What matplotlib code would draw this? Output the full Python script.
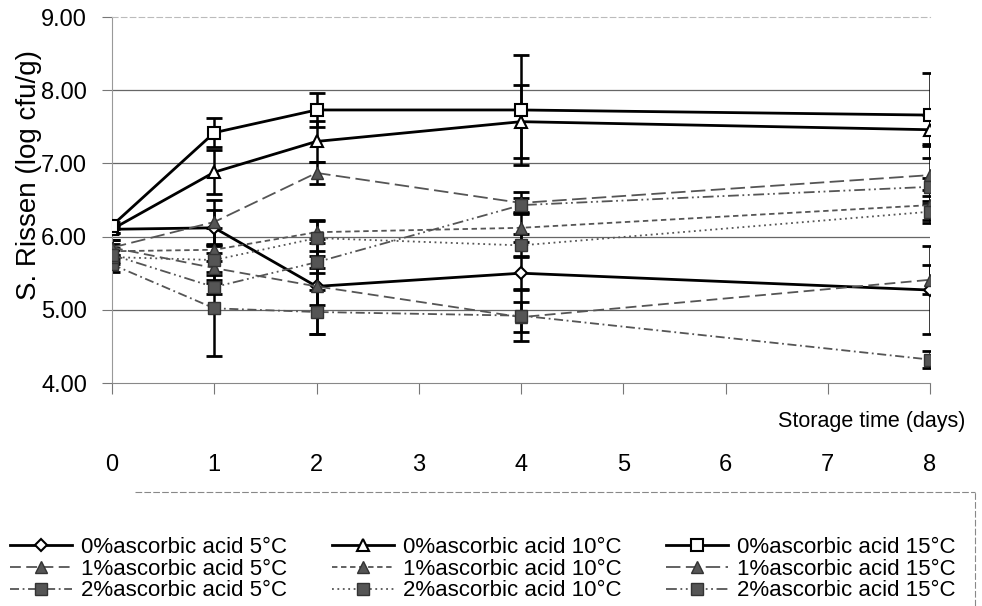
import matplotlib.pyplot as plt
from matplotlib.lines import Line2D

plt.rcParams['font.family'] = ['Liberation Sans', 'DejaVu Sans']

# data (log cfu/g), error bars are SD
days = [0, 1, 2, 4, 8]

m0_5 = [6.10, 6.12, 5.32, 5.50, 5.27]
e0_5 = [0.05, 0.25, 0.65, 0.22, 0.60]
m0_10 = [6.10, 6.88, 7.30, 7.57, 7.46]
e0_10 = [0.05, 0.30, 0.28, 0.50, 0.20]
m0_15 = [6.15, 7.42, 7.73, 7.73, 7.66]
e0_15 = [0.05, 0.20, 0.23, 0.75, 0.58]

m1_5 = [5.85, 5.57, 5.32, 4.90, 5.41]
e1_5 = [0.10, 0.20, 0.25, 0.20, 0.20]
m1_10 = [5.80, 5.82, 6.06, 6.12, 6.43]
e1_10 = [0.10, 0.30, 0.15, 0.20, 0.20]
m1_15 = [5.85, 6.20, 6.87, 6.46, 6.84]
e1_15 = [0.10, 0.30, 0.15, 0.15, 0.40]

m2_5 = [5.62, 5.02, 4.97, 4.92, 4.32]
e2_5 = [0.10, 0.65, 0.30, 0.35, 0.12]
m2_10 = [5.72, 5.68, 5.98, 5.88, 6.34]
e2_10 = [0.10, 0.20, 0.25, 0.15, 0.15]
m2_15 = [5.75, 5.31, 5.65, 6.43, 6.68]
e2_15 = [0.10, 0.10, 0.15, 0.10, 0.12]

labels = ['0%ascorbic acid 5°C', '1%ascorbic acid 5°C', '2%ascorbic acid 5°C',
          '0%ascorbic acid 10°C', '1%ascorbic acid 10°C', '2%ascorbic acid 10°C',
          '0%ascorbic acid 15°C', '1%ascorbic acid 15°C', '2%ascorbic acid 15°C']

gray = '#555555'
styles = [
    (m0_5, e0_5, dict(color='black', lw=2, marker='D', ms=6, mfc='white', mec='black', mew=1.5)),
    (m1_5, e1_5, dict(color=gray, lw=1.3, dashes=(6, 3), marker='^', ms=8, mfc=gray, mec='#333')),
    (m2_5, e2_5, dict(color=gray, lw=1.3, dashes=(5, 2, 1, 2), marker='s', ms=8, mfc=gray, mec='#333')),
    (m0_10, e0_10, dict(color='black', lw=2, marker='^', ms=8, mfc='white', mec='black', mew=1.5)),
    (m1_10, e1_10, dict(color=gray, lw=1.3, dashes=(3, 2), marker='^', ms=8, mfc=gray, mec='#333')),
    (m2_10, e2_10, dict(color=gray, lw=1.3, dashes=(1, 2), marker='s', ms=8, mfc=gray, mec='#333')),
    (m0_15, e0_15, dict(color='black', lw=2, marker='s', ms=8, mfc='white', mec='black', mew=1.5)),
    (m1_15, e1_15, dict(color=gray, lw=1.3, dashes=(8, 3), marker='^', ms=8, mfc=gray, mec='#333')),
    (m2_15, e2_15, dict(color=gray, lw=1.3, dashes=(6, 2, 1, 2, 1, 2), marker='s', ms=8, mfc=gray, mec='#333')),
]

fig = plt.figure(figsize=(9.82, 6.06), dpi=100)
ax = fig.add_axes([112 / 982, 1 - 383 / 606, (930 - 112) / 982, (383 - 17) / 606])

handles = []
for (m, e, kw), lab in zip(styles, labels):
    ax.errorbar(days, m, yerr=e, fmt='none', ecolor='black', elinewidth=1.8,
                capsize=6, capthick=2, zorder=2)
    h, = ax.plot(days, m, label=lab, zorder=3, **kw)
    handles.append(h)

ax.set_xlim(0, 8)
ax.set_ylim(4, 9)
ax.set_xticks(range(9))
ax.set_yticks([4, 5, 6, 7, 8, 9])
ax.set_yticklabels(['4.00', '5.00', '6.00', '7.00', '8.00', '9.00'])
ax.tick_params(axis='y', length=7, color='#777777', labelsize=17, pad=11)
ax.tick_params(axis='x', length=8, color='#777777', labelsize=17, pad=43)

for y in [5, 6, 7, 8]:
    ax.axhline(y, color='#666666', lw=0.9, zorder=1)
ax.spines['right'].set_visible(False)
ax.spines['top'].set_color('#bbbbbb')
ax.spines['top'].set_linestyle((0, (5, 3)))
ax.spines['left'].set_color('#999999')
ax.spines['left'].set_linewidth(0.8)
ax.spines['bottom'].set_color('#888888')

fig.text(29 / 982, 1 - 175 / 606, 'S. Rissen (log cfu/g)', rotation=90,
         ha='center', va='center', fontsize=20)
fig.text(965 / 982, 1 - 421 / 606, 'Storage time (days)', ha='right', va='center', fontsize=15.5)

leg = fig.legend(handles, labels, ncol=3, loc='upper left',
                 bbox_to_anchor=(10 / 982, 1 - 537 / 606), frameon=False,
                 fontsize=16, labelspacing=0.03, handlelength=2.8,
                 handletextpad=0.4, columnspacing=2.0, borderpad=0, borderaxespad=0)

# legend box edges (top and right)
fig.add_artist(Line2D([135 / 982, 975 / 982], [1 - 492 / 606] * 2, color='#888888',
                      lw=0.8, ls=(0, (6, 2)), transform=fig.transFigure))
fig.add_artist(Line2D([975 / 982] * 2, [0, 1 - 492 / 606], color='#888888',
                      lw=0.8, ls=(0, (6, 2)), transform=fig.transFigure))

fig.savefig('out.png', dpi=100)
